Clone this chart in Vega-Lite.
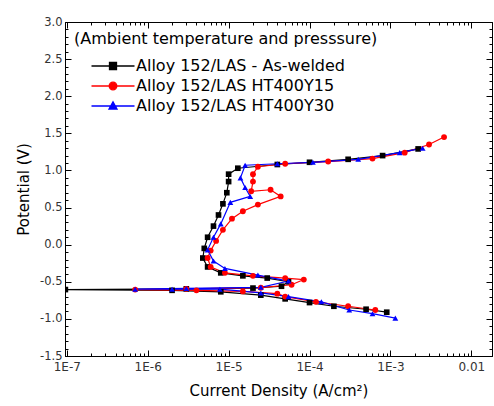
{
  "$schema": "https://vega.github.io/schema/vega-lite/v6.json",
  "width": 427,
  "height": 334,
  "autosize": {"type": "none"},
  "padding": {"left": 65, "top": 22, "right": 2, "bottom": 50},
  "background": "white",
  "config": {
    "font": "DejaVu Sans",
    "view": {"stroke": "black", "strokeWidth": 1}
  },
  "data": {"values": [
    {"s": "Alloy 152/LAS - As-welded", "k": 1, "i": 9.0e-4, "v": -0.91},
    {"s": "Alloy 152/LAS - As-welded", "k": 2, "i": 5.0e-4, "v": -0.87},
    {"s": "Alloy 152/LAS - As-welded", "k": 3, "i": 2.0e-4, "v": -0.83},
    {"s": "Alloy 152/LAS - As-welded", "k": 4, "i": 1.0e-4, "v": -0.78},
    {"s": "Alloy 152/LAS - As-welded", "k": 5, "i": 5.0e-5, "v": -0.73},
    {"s": "Alloy 152/LAS - As-welded", "k": 6, "i": 2.5e-5, "v": -0.68},
    {"s": "Alloy 152/LAS - As-welded", "k": 7, "i": 8.0e-6, "v": -0.635},
    {"s": "Alloy 152/LAS - As-welded", "k": 8, "i": 2.0e-6, "v": -0.615},
    {"s": "Alloy 152/LAS - As-welded", "k": 9, "i": 9.6e-8, "v": -0.605},
    {"s": "Alloy 152/LAS - As-welded", "k": 10, "i": 3.0e-6, "v": -0.595},
    {"s": "Alloy 152/LAS - As-welded", "k": 11, "i": 2.0e-5, "v": -0.585},
    {"s": "Alloy 152/LAS - As-welded", "k": 12, "i": 4.5e-5, "v": -0.56},
    {"s": "Alloy 152/LAS - As-welded", "k": 13, "i": 5.5e-5, "v": -0.50},
    {"s": "Alloy 152/LAS - As-welded", "k": 14, "i": 3.0e-5, "v": -0.45},
    {"s": "Alloy 152/LAS - As-welded", "k": 15, "i": 1.5e-5, "v": -0.42},
    {"s": "Alloy 152/LAS - As-welded", "k": 16, "i": 8.0e-6, "v": -0.38},
    {"s": "Alloy 152/LAS - As-welded", "k": 17, "i": 5.5e-6, "v": -0.30},
    {"s": "Alloy 152/LAS - As-welded", "k": 18, "i": 4.8e-6, "v": -0.18},
    {"s": "Alloy 152/LAS - As-welded", "k": 19, "i": 5.0e-6, "v": -0.05},
    {"s": "Alloy 152/LAS - As-welded", "k": 20, "i": 5.5e-6, "v": 0.10},
    {"s": "Alloy 152/LAS - As-welded", "k": 21, "i": 6.5e-6, "v": 0.25},
    {"s": "Alloy 152/LAS - As-welded", "k": 22, "i": 7.5e-6, "v": 0.40},
    {"s": "Alloy 152/LAS - As-welded", "k": 23, "i": 8.5e-6, "v": 0.55},
    {"s": "Alloy 152/LAS - As-welded", "k": 24, "i": 9.5e-6, "v": 0.70},
    {"s": "Alloy 152/LAS - As-welded", "k": 25, "i": 1.0e-5, "v": 0.85},
    {"s": "Alloy 152/LAS - As-welded", "k": 26, "i": 1.0e-5, "v": 0.95},
    {"s": "Alloy 152/LAS - As-welded", "k": 27, "i": 1.3e-5, "v": 1.03},
    {"s": "Alloy 152/LAS - As-welded", "k": 28, "i": 4.0e-5, "v": 1.08},
    {"s": "Alloy 152/LAS - As-welded", "k": 29, "i": 1.0e-4, "v": 1.11},
    {"s": "Alloy 152/LAS - As-welded", "k": 30, "i": 3.0e-4, "v": 1.15},
    {"s": "Alloy 152/LAS - As-welded", "k": 31, "i": 8.0e-4, "v": 1.20},
    {"s": "Alloy 152/LAS - As-welded", "k": 32, "i": 2.2e-3, "v": 1.29},

    {"s": "Alloy 152/LAS HT400Y15", "k": 1, "i": 6.5e-4, "v": -0.88},
    {"s": "Alloy 152/LAS HT400Y15", "k": 2, "i": 3.0e-4, "v": -0.83},
    {"s": "Alloy 152/LAS HT400Y15", "k": 3, "i": 1.2e-4, "v": -0.77},
    {"s": "Alloy 152/LAS HT400Y15", "k": 4, "i": 5.0e-5, "v": -0.70},
    {"s": "Alloy 152/LAS HT400Y15", "k": 5, "i": 4.0e-5, "v": -0.66},
    {"s": "Alloy 152/LAS HT400Y15", "k": 6, "i": 1.5e-5, "v": -0.63},
    {"s": "Alloy 152/LAS HT400Y15", "k": 7, "i": 4.0e-6, "v": -0.615},
    {"s": "Alloy 152/LAS HT400Y15", "k": 8, "i": 7.0e-7, "v": -0.605},
    {"s": "Alloy 152/LAS HT400Y15", "k": 9, "i": 3.0e-6, "v": -0.595},
    {"s": "Alloy 152/LAS HT400Y15", "k": 10, "i": 2.5e-5, "v": -0.58},
    {"s": "Alloy 152/LAS HT400Y15", "k": 11, "i": 6.0e-5, "v": -0.54},
    {"s": "Alloy 152/LAS HT400Y15", "k": 12, "i": 8.5e-5, "v": -0.47},
    {"s": "Alloy 152/LAS HT400Y15", "k": 13, "i": 5.0e-5, "v": -0.45},
    {"s": "Alloy 152/LAS HT400Y15", "k": 14, "i": 2.0e-5, "v": -0.42},
    {"s": "Alloy 152/LAS HT400Y15", "k": 15, "i": 9.0e-6, "v": -0.38},
    {"s": "Alloy 152/LAS HT400Y15", "k": 16, "i": 6.0e-6, "v": -0.30},
    {"s": "Alloy 152/LAS HT400Y15", "k": 17, "i": 5.5e-6, "v": -0.18},
    {"s": "Alloy 152/LAS HT400Y15", "k": 18, "i": 6.0e-6, "v": -0.08},
    {"s": "Alloy 152/LAS HT400Y15", "k": 19, "i": 7.0e-6, "v": 0.05},
    {"s": "Alloy 152/LAS HT400Y15", "k": 20, "i": 8.5e-6, "v": 0.20},
    {"s": "Alloy 152/LAS HT400Y15", "k": 21, "i": 1.1e-5, "v": 0.35},
    {"s": "Alloy 152/LAS HT400Y15", "k": 22, "i": 1.5e-5, "v": 0.45},
    {"s": "Alloy 152/LAS HT400Y15", "k": 23, "i": 2.3e-5, "v": 0.54},
    {"s": "Alloy 152/LAS HT400Y15", "k": 24, "i": 4.4e-5, "v": 0.65},
    {"s": "Alloy 152/LAS HT400Y15", "k": 25, "i": 3.3e-5, "v": 0.74},
    {"s": "Alloy 152/LAS HT400Y15", "k": 26, "i": 1.9e-5, "v": 0.72},
    {"s": "Alloy 152/LAS HT400Y15", "k": 27, "i": 2.0e-5, "v": 0.85},
    {"s": "Alloy 152/LAS HT400Y15", "k": 28, "i": 2.0e-5, "v": 0.95},
    {"s": "Alloy 152/LAS HT400Y15", "k": 29, "i": 2.3e-5, "v": 1.05},
    {"s": "Alloy 152/LAS HT400Y15", "k": 30, "i": 5.0e-5, "v": 1.09},
    {"s": "Alloy 152/LAS HT400Y15", "k": 31, "i": 1.7e-4, "v": 1.12},
    {"s": "Alloy 152/LAS HT400Y15", "k": 32, "i": 6.0e-4, "v": 1.16},
    {"s": "Alloy 152/LAS HT400Y15", "k": 33, "i": 1.5e-3, "v": 1.24},
    {"s": "Alloy 152/LAS HT400Y15", "k": 34, "i": 3.0e-3, "v": 1.35},
    {"s": "Alloy 152/LAS HT400Y15", "k": 35, "i": 4.6e-3, "v": 1.45},

    {"s": "Alloy 152/LAS HT400Y30", "k": 1, "i": 1.15e-3, "v": -0.99},
    {"s": "Alloy 152/LAS HT400Y30", "k": 2, "i": 6.0e-4, "v": -0.93},
    {"s": "Alloy 152/LAS HT400Y30", "k": 3, "i": 3.1e-4, "v": -0.88},
    {"s": "Alloy 152/LAS HT400Y30", "k": 4, "i": 1.4e-4, "v": -0.77},
    {"s": "Alloy 152/LAS HT400Y30", "k": 5, "i": 5.5e-5, "v": -0.70},
    {"s": "Alloy 152/LAS HT400Y30", "k": 6, "i": 2.5e-5, "v": -0.65},
    {"s": "Alloy 152/LAS HT400Y30", "k": 7, "i": 7.8e-6, "v": -0.60},
    {"s": "Alloy 152/LAS HT400Y30", "k": 8, "i": 2.0e-6, "v": -0.60},
    {"s": "Alloy 152/LAS HT400Y30", "k": 9, "i": 7.0e-7, "v": -0.60},
    {"s": "Alloy 152/LAS HT400Y30", "k": 10, "i": 3.0e-6, "v": -0.59},
    {"s": "Alloy 152/LAS HT400Y30", "k": 11, "i": 2.5e-5, "v": -0.575},
    {"s": "Alloy 152/LAS HT400Y30", "k": 12, "i": 5.5e-5, "v": -0.49},
    {"s": "Alloy 152/LAS HT400Y30", "k": 13, "i": 2.3e-5, "v": -0.41},
    {"s": "Alloy 152/LAS HT400Y30", "k": 14, "i": 9.0e-6, "v": -0.32},
    {"s": "Alloy 152/LAS HT400Y30", "k": 15, "i": 6.5e-6, "v": -0.22},
    {"s": "Alloy 152/LAS HT400Y30", "k": 16, "i": 5.5e-6, "v": -0.07},
    {"s": "Alloy 152/LAS HT400Y30", "k": 17, "i": 6.5e-6, "v": 0.10},
    {"s": "Alloy 152/LAS HT400Y30", "k": 18, "i": 8.0e-6, "v": 0.28},
    {"s": "Alloy 152/LAS HT400Y30", "k": 19, "i": 1.05e-5, "v": 0.57},
    {"s": "Alloy 152/LAS HT400Y30", "k": 20, "i": 1.85e-5, "v": 0.65},
    {"s": "Alloy 152/LAS HT400Y30", "k": 21, "i": 1.6e-5, "v": 0.77},
    {"s": "Alloy 152/LAS HT400Y30", "k": 22, "i": 1.4e-5, "v": 0.90},
    {"s": "Alloy 152/LAS HT400Y30", "k": 23, "i": 1.6e-5, "v": 1.07},
    {"s": "Alloy 152/LAS HT400Y30", "k": 24, "i": 4.0e-5, "v": 1.09},
    {"s": "Alloy 152/LAS HT400Y30", "k": 25, "i": 1.1e-4, "v": 1.11},
    {"s": "Alloy 152/LAS HT400Y30", "k": 26, "i": 4.0e-4, "v": 1.15},
    {"s": "Alloy 152/LAS HT400Y30", "k": 27, "i": 1.3e-3, "v": 1.24},
    {"s": "Alloy 152/LAS HT400Y30", "k": 28, "i": 2.5e-3, "v": 1.30}
  ]},
  "resolve": {"axis": {"x": "independent", "y": "independent"}},
  "layer": [
    {
      "mark": {"type": "line", "strokeWidth": 1.2, "clip": true},
      "encoding": {
        "x": {
          "field": "i", "type": "quantitative",
          "scale": {"type": "log", "domain": [9.5e-8, 0.018], "nice": false},
          "axis": {
            "orient": "bottom",
            "title": "Current Density (A/cm²)",
            "titleFontSize": 15, "titleFontWeight": "normal", "titleColor": "black", "titlePadding": 8,
            "values": [1e-7,2e-7,3e-7,4e-7,5e-7,6e-7,7e-7,8e-7,9e-7,1e-6,2e-6,3e-6,4e-6,5e-6,6e-6,7e-6,8e-6,9e-6,1e-5,2e-5,3e-5,4e-5,5e-5,6e-5,7e-5,8e-5,9e-5,1e-4,2e-4,3e-4,4e-4,5e-4,6e-4,7e-4,8e-4,9e-4,1e-3,2e-3,3e-3,4e-3,5e-3,6e-3,7e-3,8e-3,9e-3,1e-2],
            "labelExpr": "abs(log(datum.value)/LN10 - round(log(datum.value)/LN10)) < 0.001 ? (datum.value > 0.005 ? '0.01' : '1E' + round(log(datum.value)/LN10)) : ''",
            "tickSize": {"condition": {"test": "abs(log(datum.value)/LN10 - round(log(datum.value)/LN10)) < 0.001", "value": -6}, "value": -3},
            "labelPadding": 11, "labelFontSize": 12, "labelColor": "#333", "labelOverlap": false, "labelFlush": false,
            "grid": false, "domainColor": "black", "tickColor": "black"
          }
        },
        "y": {
          "field": "v", "type": "quantitative",
          "scale": {"domain": [-1.5, 3.0], "nice": false, "zero": false},
          "axis": {
            "orient": "left",
            "title": "Potential (V)",
            "titleFontSize": 15, "titleFontWeight": "normal", "titleColor": "black", "titlePadding": 8,
            "values": [-1.5,-1.4,-1.3,-1.2,-1.1,-1.0,-0.9,-0.8,-0.7,-0.6,-0.5,-0.4,-0.3,-0.2,-0.1,0,0.1,0.2,0.3,0.4,0.5,0.6,0.7,0.8,0.9,1.0,1.1,1.2,1.3,1.4,1.5,1.6,1.7,1.8,1.9,2.0,2.1,2.2,2.3,2.4,2.5,2.6,2.7,2.8,2.9,3.0],
            "labelExpr": "abs(datum.value*2 - round(datum.value*2)) < 0.001 ? replace(format(datum.value, '.1f'), '\u2212', '-') : ''",
            "tickSize": {"condition": {"test": "abs(datum.value*2 - round(datum.value*2)) < 0.001", "value": -6}, "value": -3},
            "labelPadding": 9, "labelFontSize": 11.5, "labelColor": "#333", "labelOverlap": false, "labelFlush": false,
            "labelBaseline": "middle",
            "grid": false, "domainColor": "black", "tickColor": "black"
          }
        },
        "color": {
          "field": "s", "type": "nominal",
          "scale": {"domain": ["Alloy 152/LAS - As-welded", "Alloy 152/LAS HT400Y15", "Alloy 152/LAS HT400Y30"], "range": ["#000000", "#ff0000", "#0000ff"]},
          "legend": {
            "orient": "none", "legendX": 9, "legendY": 9,
            "title": "(Ambient temperature and presssure)",
            "titleFontSize": 16, "titleFontWeight": "normal", "titleColor": "black", "titlePadding": 8, "titleLimit": 400,
            "labelFontSize": 16, "labelColor": "black", "labelLimit": 400,
            "symbolSize": 400, "symbolOffset": 28, "labelOffset": 12, "rowPadding": 1, "padding": 0,
            "encode": {"symbols": {"update": {
              "shape": {"signal": "datum.value === 'Alloy 152/LAS - As-welded' ? 'M-2.15,0H2.15M-0.35,-0.35H0.35V0.35H-0.35Z' : (datum.value === 'Alloy 152/LAS HT400Y15' ? 'M-2.15,0H2.15M-0.38,0A0.38,0.38,0,1,0,0.38,0A0.38,0.38,0,1,0,-0.38,0Z' : 'M-2.15,0H2.15M0,-0.42L0.4,0.3H-0.4Z')"},
              "stroke": {"scale": "color", "field": "value"},
              "fill": {"scale": "color", "field": "value"},
              "strokeWidth": {"value": 1.3},
              "opacity": {"value": 1}
            }}}
          }
        },
        "order": {"field": "k", "type": "quantitative"}
      }
    },
    {
      "transform": [{"filter": "datum.s === 'Alloy 152/LAS - As-welded'"}],
      "mark": {"type": "point", "shape": "square", "filled": true, "size": 32, "opacity": 1, "clip": true},
      "encoding": {
        "x": {
          "field": "i", "type": "quantitative",
          "scale": {"type": "log", "domain": [9.5e-8, 0.018], "nice": false},
          "axis": {
            "orient": "top", "title": null, "labels": false,
            "values": [1e-7,2e-7,3e-7,4e-7,5e-7,6e-7,7e-7,8e-7,9e-7,1e-6,2e-6,3e-6,4e-6,5e-6,6e-6,7e-6,8e-6,9e-6,1e-5,2e-5,3e-5,4e-5,5e-5,6e-5,7e-5,8e-5,9e-5,1e-4,2e-4,3e-4,4e-4,5e-4,6e-4,7e-4,8e-4,9e-4,1e-3,2e-3,3e-3,4e-3,5e-3,6e-3,7e-3,8e-3,9e-3,1e-2],
            "tickSize": {"condition": {"test": "abs(log(datum.value)/LN10 - round(log(datum.value)/LN10)) < 0.001", "value": -6}, "value": -3},
            "grid": false, "domainColor": "black", "tickColor": "black"
          }
        },
        "y": {
          "field": "v", "type": "quantitative",
          "scale": {"domain": [-1.5, 3.0], "nice": false, "zero": false},
          "axis": {
            "orient": "right", "title": null, "labels": false,
            "values": [-1.5,-1.4,-1.3,-1.2,-1.1,-1.0,-0.9,-0.8,-0.7,-0.6,-0.5,-0.4,-0.3,-0.2,-0.1,0,0.1,0.2,0.3,0.4,0.5,0.6,0.7,0.8,0.9,1.0,1.1,1.2,1.3,1.4,1.5,1.6,1.7,1.8,1.9,2.0,2.1,2.2,2.3,2.4,2.5,2.6,2.7,2.8,2.9,3.0],
            "tickSize": {"condition": {"test": "abs(datum.value*2 - round(datum.value*2)) < 0.001", "value": -6}, "value": -3},
            "grid": false, "domainColor": "black", "tickColor": "black"
          }
        },
        "color": {"field": "s", "type": "nominal"}
      }
    },
    {
      "transform": [{"filter": "datum.s === 'Alloy 152/LAS HT400Y15'"}],
      "mark": {"type": "point", "shape": "circle", "filled": true, "size": 34, "opacity": 1, "clip": true},
      "encoding": {
        "x": {"field": "i", "type": "quantitative", "axis": null},
        "y": {"field": "v", "type": "quantitative", "axis": null},
        "color": {"field": "s", "type": "nominal"}
      }
    },
    {
      "transform": [{"filter": "datum.s === 'Alloy 152/LAS HT400Y30'"}],
      "mark": {"type": "point", "shape": "triangle-up", "filled": true, "size": 34, "opacity": 1, "clip": true},
      "encoding": {
        "x": {"field": "i", "type": "quantitative", "axis": null},
        "y": {"field": "v", "type": "quantitative", "axis": null},
        "color": {"field": "s", "type": "nominal"}
      }
    }
  ]
}
